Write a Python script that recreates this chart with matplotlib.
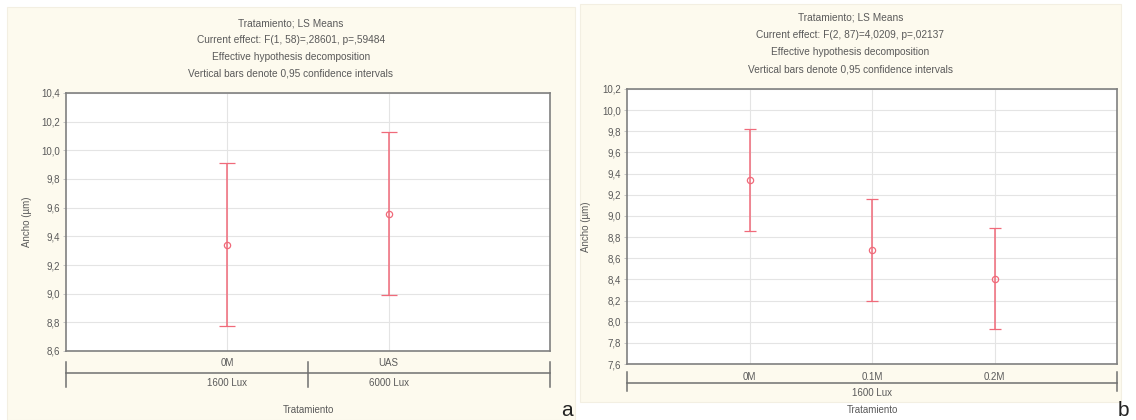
import matplotlib
matplotlib.use("Agg")
import matplotlib.pyplot as plt
from matplotlib.patches import Rectangle

plt.rcParams['font.family'] = ['Liberation Sans', 'DejaVu Sans']

W, H = 1136, 420

# panel a
a_titles = ["Tratamiento; LS Means",
            "Current effect: F(1, 58)=,28601, p=,59484",
            "Effective hypothesis decomposition",
            "Vertical bars denote 0,95 confidence intervals"]
a_cats = ["0M", "UAS"]
a_groups = ["1600 Lux", "6000 Lux"]
a_mean = [9.34, 9.555]
a_low = [8.777, 8.99]
a_high = [9.914, 10.128]
a_yticks = [8.6, 8.8, 9.0, 9.2, 9.4, 9.6, 9.8, 10.0, 10.2, 10.4]

# panel b
b_titles = ["Tratamiento; LS Means",
            "Current effect: F(2, 87)=4,0209, p=,02137",
            "Effective hypothesis decomposition",
            "Vertical bars denote 0,95 confidence intervals"]
b_cats = ["0M", "0.1M", "0.2M"]
b_groups = ["1600 Lux"]
b_mean = [9.342, 8.676, 8.40]
b_low = [8.862, 8.196, 7.928]
b_high = [9.824, 9.159, 8.887]
b_yticks = [7.6, 7.8, 8.0, 8.2, 8.4, 8.6, 8.8, 9.0, 9.2, 9.4, 9.6, 9.8, 10.0, 10.2]

GREY = "#5a5a5a"
FRAME = "#808080"
RED = "#f06a7a"
CREAM = "#fdfaee"

fig = plt.figure(figsize=(W / 100, H / 100), dpi=100)
fig.patch.set_facecolor("white")


def px_axes(x0, y0, x1, y1):
    # pixel box (top-left origin) -> figure axes
    return fig.add_axes([x0 / W, 1 - y1 / H, (x1 - x0) / W, (y1 - y0) / H])


def panel(bg, box, titles, title_y, cats, groups, mean, low, high, yticks,
          capsize, cat_y, line_y, tick_span, grp_y, ylab_xy, letter, letter_xy,
          group_ticks):
    fig.patches.append(Rectangle((bg[0] / W, 1 - bg[3] / H), (bg[2] - bg[0]) / W,
                                 (bg[3] - bg[1]) / H, transform=fig.transFigure,
                                 facecolor=CREAM, edgecolor="#f3efe2", lw=0.8, zorder=-5))
    cx = (bg[0] + bg[2]) / 2 / W
    for i, t in enumerate(titles):
        fig.text(cx, 1 - (title_y + i * 17) / H, t, ha="center", va="center",
                 fontsize=7.3, color=GREY)

    ax = px_axes(*box)
    n = len(cats)
    xs = list(range(1, n + 1))
    yerr = [[m - l for m, l in zip(mean, low)], [h - m for m, h in zip(mean, high)]]
    ax.errorbar(xs, mean, yerr=yerr, fmt="o", ms=4.5, mfc="none", mec=RED, mew=0.9,
                ecolor=RED, elinewidth=1.1, capsize=capsize, capthick=1.1, zorder=3)
    ax.set_xlim(0, n + 1)
    ax.set_ylim(yticks[0], yticks[-1])
    ax.set_yticks(yticks)
    ax.set_yticklabels([f"{v:.1f}".replace(".", ",") for v in yticks],
                       fontsize=7, color=GREY)
    ax.set_xticks(xs)
    ax.set_xticklabels([])
    ax.grid(True, color="#e4e4e4", lw=0.8)
    ax.set_axisbelow(True)
    ax.tick_params(axis="y", length=2.5, width=0.6, color="#bdbdbd", pad=2)
    ax.tick_params(axis="x", length=0)
    for s in ax.spines.values():
        s.set_color(FRAME)
        s.set_linewidth(1.2)
    ax.set_facecolor("white")
    fig.text(ylab_xy[0] / W, 1 - ylab_xy[1] / H, "Ancho (µm)", rotation=90,
             ha="center", va="center", fontsize=7, color=GREY)

    # bracket strip under the plot
    bx = px_axes(box[0], box[3] + 1, box[2], H)
    bx.set_xlim(0, n + 1)
    bx.set_ylim(H, box[3] + 1)
    bx.axis("off")
    bx.plot([0, n + 1], [line_y, line_y], color="#707070", lw=1.1, clip_on=False)
    for gx in group_ticks:
        bx.plot([gx, gx], [line_y - tick_span[0], line_y + tick_span[1]],
                color="#707070", lw=1.1, clip_on=False)
    for x, c in zip(xs, cats):
        bx.text(x, cat_y, c, ha="center", va="center", fontsize=7, color=GREY)
    per = n / len(groups)
    for i, g in enumerate(groups):
        gx = (i * per + (i + 1) * per) / 2 + 0.5
        bx.text(gx, grp_y, g, ha="center", va="center", fontsize=7, color=GREY)
    bx.text((n + 1) / 2, 410, "Tratamiento", ha="center", va="center",
            fontsize=7, color=GREY)
    fig.text(letter_xy[0] / W, 1 - letter_xy[1] / H, letter, ha="left",
             va="baseline", fontsize=15, color="#222222")
    return ax


axa = panel((7, 7, 575, 420), (66, 93, 550, 351), a_titles, 23, a_cats, a_groups,
            a_mean, a_low, a_high, a_yticks, 6, 363, 373, (11, 14), 383, (27, 222),
            "a", (561, 416), [0, 1.5, 3])
axb = panel((580, 4, 1121, 402), (627, 89, 1117, 364), b_titles, 18, b_cats, b_groups,
            b_mean, b_low, b_high, b_yticks, 4.5, 377, 383, (11, 8), 393, (586, 227),
            "b", (1118, 416), [0, 4])

fig.savefig("out.png", dpi=100, facecolor="white")
